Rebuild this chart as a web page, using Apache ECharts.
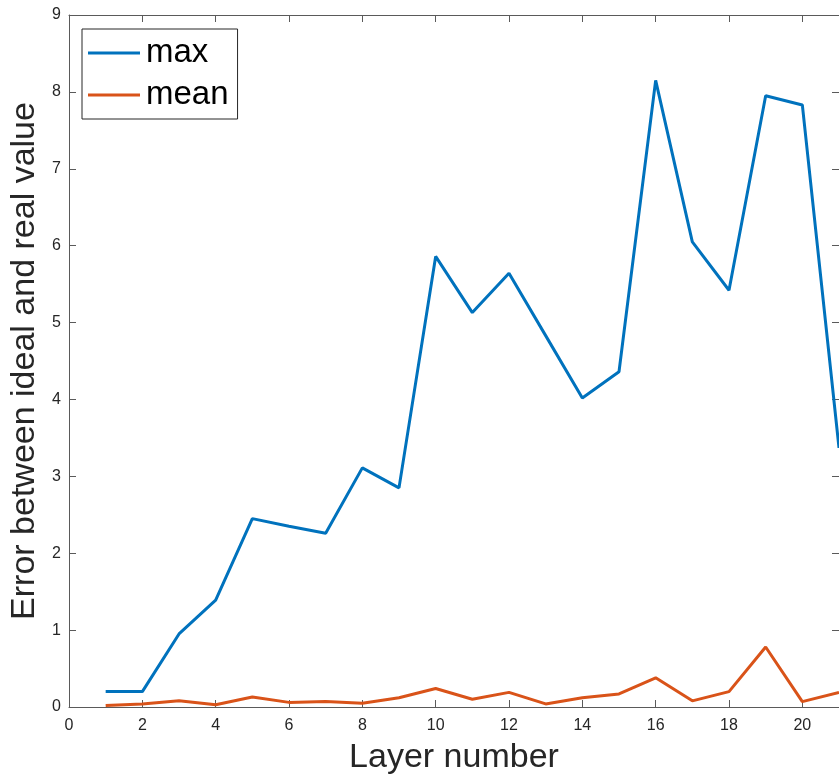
<!DOCTYPE html>
<html>
<head>
<meta charset="utf-8">
<script src="https://cdn.jsdelivr.net/npm/echarts@6/dist/echarts.min.js"></script>
<style>
  html, body { margin: 0; padding: 0; background: #fff; }
  #main { width: 839px; height: 780px; }
</style>
</head>
<body>
<div id="main"></div>
<script>
var layers = [1, 2, 3, 4, 5, 6, 7, 8, 9, 10, 11, 12, 13, 14, 15, 16, 17, 18, 19, 20, 21]
var maxError = [0.2, 0.2, 0.95, 1.39, 2.45, 2.35, 2.26, 3.11, 2.85, 5.86, 5.13, 5.64, 4.83, 4.02, 4.36, 8.15, 6.05, 5.42, 7.95, 7.83, 3.37]
var meanError = [0.02, 0.04, 0.08, 0.03, 0.13, 0.06, 0.07, 0.05, 0.12, 0.24, 0.1, 0.19, 0.04, 0.12, 0.17, 0.38, 0.08, 0.2, 0.78, 0.07, 0.19]
var seriesNames = ['max', 'mean']

var fontFam = 'Liberation Sans, Arial, Helvetica, sans-serif'
var axisGray = '#5a5a5a'

function pairs(vals) {
    return layers.map(function (x, i) { return [x, vals[i]] })
}

// box-style axes: top and right copies only draw the frame and inner ticks
function frameAxis(extra) {
    var a = {
        type: 'value',
        axisLine: { show: true, onZero: false, lineStyle: { color: axisGray, width: 1 } },
        axisTick: { show: true, inside: true, length: 7, lineStyle: { color: axisGray } },
        axisLabel: { show: false },
        splitLine: { show: false }
    }
    for (var k in extra) a[k] = extra[k]
    return a
}

var chart = echarts.init(document.getElementById('main'))
chart.setOption({
    backgroundColor: '#fff',
    animation: false,
    grid: { left: 68, top: 15, right: -6, bottom: 73, containLabel: false },
    legend: {
        orient: 'vertical',
        left: 82,
        top: 29,
        padding: [6, 9, 6, 6],
        itemGap: 6,
        itemWidth: 52,
        itemHeight: 3,
        icon: 'rect',
        borderColor: '#262626',
        borderWidth: 1,
        backgroundColor: '#fff',
        textStyle: { fontSize: 33, lineHeight: 36, color: '#000', fontFamily: fontFam, padding: [0, 0, 0, 1] },
        data: seriesNames
    },
    xAxis: [
        frameAxis({
            min: 0, max: 21, interval: 2,
            position: 'bottom',
            name: 'Layer number',
            nameLocation: 'middle',
            nameGap: 34,
            nameTextStyle: { fontSize: 34, color: '#262626', fontFamily: fontFam },
            axisLabel: { show: true, showMaxLabel: false, fontSize: 16, color: '#262626', margin: 11, fontFamily: fontFam }
        }),
        frameAxis({ min: 0, max: 21, interval: 2, position: 'top' })
    ],
    yAxis: [
        frameAxis({
            min: 0, max: 9, interval: 1,
            position: 'left',
            name: 'Error between ideal and real value',
            nameLocation: 'middle',
            nameGap: 27,
            nameMoveOverlap: false,
            nameTextStyle: { fontSize: 34, color: '#262626', fontFamily: fontFam },
            axisLabel: { show: true, fontSize: 16, color: '#262626', margin: 8, fontFamily: fontFam }
        }),
        frameAxis({ min: 0, max: 9, interval: 1, position: 'right' })
    ],
    series: [
        {
            name: seriesNames[0],
            type: 'line',
            data: pairs(maxError),
            showSymbol: false,
            symbol: 'none',
            color: '#0072BD',
            lineStyle: { width: 3, color: '#0072BD' }
        },
        {
            name: seriesNames[1],
            type: 'line',
            data: pairs(meanError),
            showSymbol: false,
            symbol: 'none',
            color: '#D95319',
            lineStyle: { width: 3, color: '#D95319' }
        }
    ]
})
</script>
</body>
</html>
